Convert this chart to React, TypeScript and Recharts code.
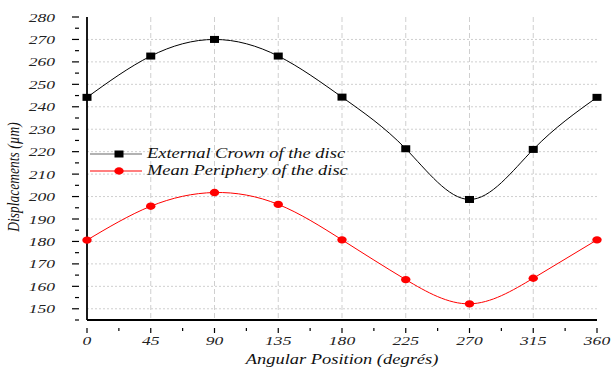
import React from 'react';
import { LineChart, Line, XAxis, YAxis, CartesianGrid, Label } from 'recharts';

const angles = [0, 45, 90, 135, 180, 225, 270, 315, 360];
const externalCrown = [244.2, 262.6, 270, 262.6, 244.3, 221.3, 198.7, 221, 244.2];
const meanPeriphery = [180.6, 195.7, 201.8, 196.5, 180.7, 163, 152.2, 163.6, 180.7];

const xTicks = [0, 22.5, 45, 67.5, 90, 112.5, 135, 157.5, 180, 202.5, 225, 247.5, 270, 292.5, 315, 337.5, 360];
const yTicks = [145, 150, 155, 160, 165, 170, 175, 180, 185, 190, 195, 200, 205, 210, 215, 220, 225, 230, 235, 240, 245, 250, 255, 260, 265, 270, 275, 280];
const hGrid = [150, 160, 170, 180, 190, 200, 210, 220, 230, 240, 250, 260, 270];
const vGrid = [45, 90, 135, 180, 225, 270, 315];

const data = angles.map((a, i) => ({ angle: a, crown: externalCrown[i], periphery: meanPeriphery[i] }));

const SX = 1.3;
const txt: React.CSSProperties = { fontFamily: "'Liberation Serif', serif", fontStyle: 'italic', fontSize: 13.5 };
const big: React.CSSProperties = { ...txt, fontSize: 14.2 };

const XTick = (props: any) => {
  const { x, y, payload } = props;
  const major = payload.value % 45 === 0;
  return (
    <g>
      <line x1={x} x2={x} y1={y} y2={y + (major ? 5 : 3)} stroke="#000" strokeWidth={1.2} />
      {major && (
        <text transform={`translate(${x},${y + 17}) scale(${SX},1)`} textAnchor="middle" style={txt} fill="#222">
          {payload.value}
        </text>
      )}
    </g>
  );
};

const YTick = (props: any) => {
  const { x, y, payload } = props;
  const major = payload.value % 10 === 0;
  return (
    <g>
      <line x1={x} x2={x - (major ? 7 : 4)} y1={y} y2={y} stroke="#000" strokeWidth={1.2} />
      {major && (
        <text transform={`translate(${x - 24},${y + 4.5}) scale(${SX},1)`} textAnchor="end" style={txt} fill="#222">
          {payload.value}
        </text>
      )}
    </g>
  );
};

const SquareDot = (props: any) => {
  const { cx, cy } = props;
  if (cx == null || cy == null) return null;
  return <rect x={cx - 4.5} y={cy - 3.5} width={9} height={7} fill="#000" />;
};

const CircleDot = (props: any) => {
  const { cx, cy } = props;
  if (cx == null || cy == null) return null;
  return <ellipse cx={cx} cy={cy} rx={4.7} ry={3.7} fill="#ff0000" />;
};

const LegendBox = () => (
  <g>
    <line x1={90} x2={142} y1={154} y2={154} stroke="#666" strokeWidth={1.2} />
    <rect x={114.5} y={150.5} width={9} height={7} fill="#000" />
    <text transform={`translate(147,158) scale(${SX},1)`} style={big} fill="#111">
      External Crown of the disc
    </text>
    <line x1={90} x2={142} y1={171} y2={171} stroke="#ff0000" strokeWidth={1.2} />
    <ellipse cx={119} cy={171} rx={4.7} ry={3.7} fill="#ff0000" />
    <text transform={`translate(147,175) scale(${SX},1)`} style={big} fill="#111">
      Mean Periphery of the disc
    </text>
  </g>
);

export default function App() {
  return (
    <div style={{ position: 'absolute', left: 0, top: 0, width: 612, height: 367, background: '#fff' }}>
      <LineChart width={612} height={367} data={data} margin={{ top: 17, right: 15, left: 0, bottom: 0 }}>
        <CartesianGrid vertical={false} horizontalValues={hGrid} stroke="#cfcfcf" strokeDasharray="2 2" />
        <CartesianGrid horizontal={false} verticalValues={vGrid} stroke="#cfcfcf" strokeDasharray="5 3" />
        <XAxis
          dataKey="angle"
          type="number"
          domain={[0, 360]}
          ticks={xTicks}
          interval={0}
          height={47}
          tickLine={false}
          tick={<XTick />}
          axisLine={{ stroke: '#000', strokeWidth: 1.8 }}
        >
          <Label
            content={() => (
              <text transform={`translate(342,364) scale(${SX},1)`} textAnchor="middle" style={big} fill="#111">
                Angular Position (degrés)
              </text>
            )}
          />
        </XAxis>
        <XAxis xAxisId="top" orientation="top" type="number" domain={[0, 360]} height={0} tick={false} tickLine={false} axisLine={{ stroke: '#000', strokeWidth: 1.5 }} />
        <YAxis
          type="number"
          domain={[145, 280]}
          ticks={yTicks}
          interval={0}
          width={87}
          tickLine={false}
          tick={<YTick />}
          axisLine={{ stroke: '#000', strokeWidth: 1.8 }}
        >
          <Label
            content={() => (
              <text transform="translate(19,177) rotate(-90) scale(1,1.3)" textAnchor="middle" style={txt} fill="#111">
                Displacements (µm)
              </text>
            )}
          />
        </YAxis>
        <YAxis yAxisId="right" orientation="right" width={0} tick={false} tickLine={false} axisLine={{ stroke: '#000', strokeWidth: 1.5 }} />
        <Line type="natural" dataKey="crown" stroke="#000" strokeWidth={1} dot={<SquareDot />} activeDot={false} isAnimationActive={false} />
        <Line type="natural" dataKey="periphery" stroke="#ff0000" strokeWidth={1} dot={<CircleDot />} activeDot={false} isAnimationActive={false} />
        <LegendBox />
      </LineChart>
    </div>
  );
}
